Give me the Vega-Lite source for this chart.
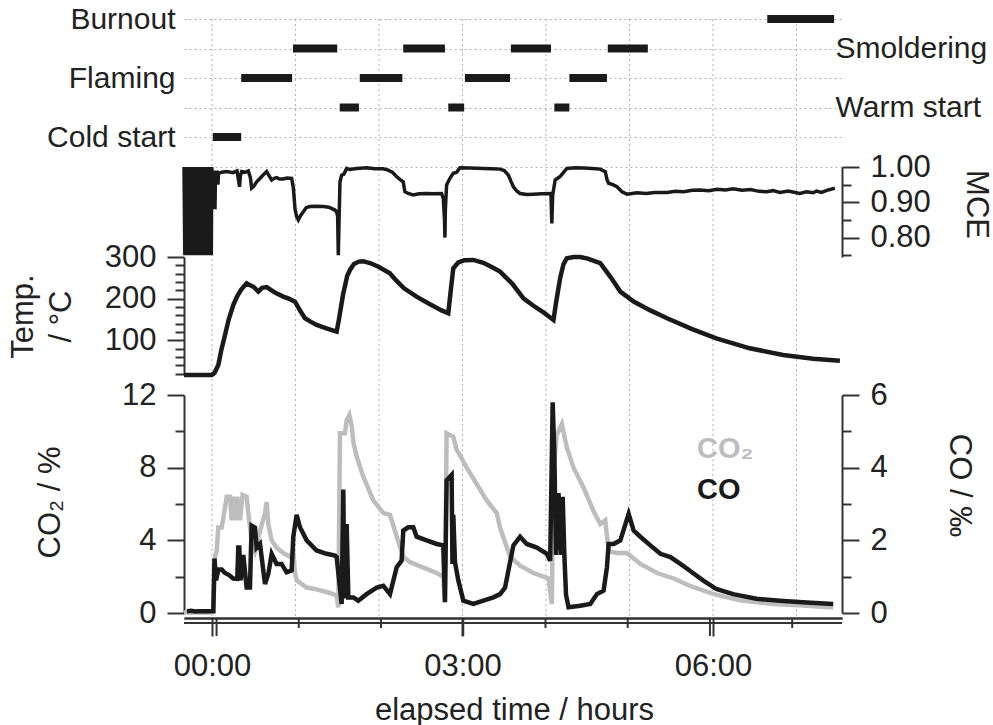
{
  "$schema": "https://vega.github.io/schema/vega-lite/v6.json",
  "width": 658,
  "height": 629,
  "autosize": {"type": "none"},
  "padding": {"left": 184, "top": 19, "right": 151, "bottom": 77},
  "background": "white",
  "config": {
    "font": "Liberation Sans",
    "view": {"stroke": null},
    "axis": {
      "labelFont": "Liberation Sans",
      "titleFont": "Liberation Sans",
      "labelFontSize": 31,
      "titleFontSize": 31,
      "labelColor": "#222",
      "titleColor": "#222",
      "titleFontWeight": "normal",
      "domainColor": "#333",
      "domainWidth": 2,
      "tickColor": "#333",
      "tickWidth": 2,
      "grid": false,
      "labelFlush": false,
      "labelOverlap": false
    }
  },
  "datasets": {
    "hours": [{"h": 0}, {"h": 1}, {"h": 2}, {"h": 3}, {"h": 4}, {"h": 5}, {"h": 6}, {"h": 7}],
    "majorHours": [{"h": 0}, {"h": 3}, {"h": 6}],
    "minorHours": [{"h": 1}, {"h": 2}, {"h": 4}, {"h": 5}, {"h": 7}],
    "phases": [
      {"phase": "Cold start", "start": 0.01, "end": 0.35},
      {"phase": "Flaming", "start": 0.35, "end": 0.96},
      {"phase": "Smoldering", "start": 0.97, "end": 1.5},
      {"phase": "Warm start", "start": 1.53, "end": 1.76},
      {"phase": "Flaming", "start": 1.77, "end": 2.28},
      {"phase": "Smoldering", "start": 2.29, "end": 2.79},
      {"phase": "Warm start", "start": 2.83, "end": 3.02},
      {"phase": "Flaming", "start": 3.03, "end": 3.57},
      {"phase": "Smoldering", "start": 3.58, "end": 4.06},
      {"phase": "Warm start", "start": 4.1, "end": 4.28},
      {"phase": "Flaming", "start": 4.28, "end": 4.73},
      {"phase": "Smoldering", "start": 4.74, "end": 5.22},
      {"phase": "Burnout", "start": 6.65, "end": 7.45}
    ],
    "mce": [
      {"t": -0.335, "v": 1.0}, {"t": -0.325, "v": 0.75}, {"t": -0.315, "v": 1.0}, {"t": -0.305, "v": 0.75},
      {"t": -0.295, "v": 1.0}, {"t": -0.285, "v": 0.75}, {"t": -0.275, "v": 1.0}, {"t": -0.265, "v": 0.75},
      {"t": -0.255, "v": 1.0}, {"t": -0.245, "v": 0.75}, {"t": -0.235, "v": 1.0}, {"t": -0.225, "v": 0.75},
      {"t": -0.215, "v": 1.0}, {"t": -0.205, "v": 0.75}, {"t": -0.195, "v": 1.0}, {"t": -0.185, "v": 0.75},
      {"t": -0.175, "v": 1.0}, {"t": -0.165, "v": 0.75}, {"t": -0.155, "v": 1.0}, {"t": -0.145, "v": 0.75},
      {"t": -0.135, "v": 1.0}, {"t": -0.125, "v": 0.75}, {"t": -0.115, "v": 1.0}, {"t": -0.105, "v": 0.75},
      {"t": -0.095, "v": 1.0}, {"t": -0.085, "v": 0.75}, {"t": -0.075, "v": 1.0}, {"t": -0.065, "v": 0.75},
      {"t": -0.055, "v": 1.0}, {"t": -0.045, "v": 0.75}, {"t": -0.035, "v": 1.0}, {"t": -0.025, "v": 0.75},
      {"t": -0.015, "v": 1.0}, {"t": -0.008, "v": 0.75}, {"t": -0.003, "v": 1.0},
      {"t": 0.0, "v": 0.99}, {"t": 0.004, "v": 0.88}, {"t": 0.008, "v": 0.99}, {"t": 0.012, "v": 0.88},
      {"t": 0.016, "v": 0.99}, {"t": 0.02, "v": 0.88}, {"t": 0.024, "v": 0.99}, {"t": 0.028, "v": 0.88},
      {"t": 0.032, "v": 0.99}, {"t": 0.036, "v": 0.88}, {"t": 0.042, "v": 0.99}, {"t": 0.048, "v": 0.95},
      {"t": 0.054, "v": 0.99}, {"t": 0.06, "v": 0.95}, {"t": 0.066, "v": 0.99}, {"t": 0.072, "v": 0.95},
      {"t": 0.078, "v": 0.982}, {"t": 0.12, "v": 0.985}, {"t": 0.176, "v": 0.987}, {"t": 0.25, "v": 0.984},
      {"t": 0.3, "v": 0.989}, {"t": 0.32, "v": 0.96}, {"t": 0.33, "v": 0.944}, {"t": 0.34, "v": 0.975},
      {"t": 0.356, "v": 0.987}, {"t": 0.4, "v": 0.985}, {"t": 0.435, "v": 0.989}, {"t": 0.46, "v": 0.97},
      {"t": 0.475, "v": 0.94}, {"t": 0.5, "v": 0.945}, {"t": 0.535, "v": 0.958}, {"t": 0.565, "v": 0.965},
      {"t": 0.595, "v": 0.973}, {"t": 0.625, "v": 0.98}, {"t": 0.655, "v": 0.987}, {"t": 0.685, "v": 0.975},
      {"t": 0.715, "v": 0.963}, {"t": 0.745, "v": 0.968}, {"t": 0.775, "v": 0.97}, {"t": 0.81, "v": 0.966},
      {"t": 0.854, "v": 0.966}, {"t": 0.9, "v": 0.969}, {"t": 0.954, "v": 0.968}, {"t": 0.975, "v": 0.94},
      {"t": 0.995, "v": 0.88}, {"t": 1.014, "v": 0.859}, {"t": 1.034, "v": 0.85}, {"t": 1.06, "v": 0.862},
      {"t": 1.094, "v": 0.873}, {"t": 1.13, "v": 0.885}, {"t": 1.174, "v": 0.888}, {"t": 1.25, "v": 0.889},
      {"t": 1.333, "v": 0.888}, {"t": 1.4, "v": 0.886}, {"t": 1.473, "v": 0.878}, {"t": 1.493, "v": 0.873},
      {"t": 1.505, "v": 0.86}, {"t": 1.513, "v": 0.75}, {"t": 1.523, "v": 0.86}, {"t": 1.533, "v": 0.958},
      {"t": 1.553, "v": 0.977}, {"t": 1.58, "v": 0.98}, {"t": 1.613, "v": 0.996}, {"t": 1.65, "v": 0.993},
      {"t": 1.733, "v": 0.996}, {"t": 1.853, "v": 0.998}, {"t": 1.95, "v": 0.995}, {"t": 2.05, "v": 0.995},
      {"t": 2.11, "v": 0.991}, {"t": 2.16, "v": 0.985}, {"t": 2.21, "v": 0.973}, {"t": 2.25, "v": 0.965},
      {"t": 2.29, "v": 0.958}, {"t": 2.31, "v": 0.93}, {"t": 2.35, "v": 0.925}, {"t": 2.41, "v": 0.921},
      {"t": 2.48, "v": 0.924}, {"t": 2.57, "v": 0.925}, {"t": 2.65, "v": 0.924}, {"t": 2.75, "v": 0.925},
      {"t": 2.77, "v": 0.911}, {"t": 2.785, "v": 0.85}, {"t": 2.79, "v": 0.8}, {"t": 2.795, "v": 0.88},
      {"t": 2.81, "v": 0.949}, {"t": 2.85, "v": 0.968}, {"t": 2.89, "v": 0.982}, {"t": 2.93, "v": 0.985},
      {"t": 2.97, "v": 0.998}, {"t": 3.1, "v": 0.997}, {"t": 3.25, "v": 0.996}, {"t": 3.35, "v": 0.995},
      {"t": 3.45, "v": 0.994}, {"t": 3.5, "v": 0.99}, {"t": 3.55, "v": 0.977}, {"t": 3.58, "v": 0.96},
      {"t": 3.61, "v": 0.944}, {"t": 3.65, "v": 0.932}, {"t": 3.69, "v": 0.925}, {"t": 3.77, "v": 0.922},
      {"t": 3.85, "v": 0.923}, {"t": 3.95, "v": 0.924}, {"t": 4.05, "v": 0.925}, {"t": 4.06, "v": 0.92},
      {"t": 4.07, "v": 0.84}, {"t": 4.08, "v": 0.92}, {"t": 4.11, "v": 0.963}, {"t": 4.14, "v": 0.968},
      {"t": 4.17, "v": 0.973}, {"t": 4.21, "v": 0.985}, {"t": 4.25, "v": 0.996}, {"t": 4.35, "v": 0.998},
      {"t": 4.45, "v": 0.997}, {"t": 4.55, "v": 0.996}, {"t": 4.65, "v": 0.994}, {"t": 4.71, "v": 0.987},
      {"t": 4.73, "v": 0.965}, {"t": 4.75, "v": 0.954}, {"t": 4.8, "v": 0.95}, {"t": 4.85, "v": 0.944},
      {"t": 4.91, "v": 0.93}, {"t": 4.97, "v": 0.923}, {"t": 5.03, "v": 0.925}, {"t": 5.09, "v": 0.927},
      {"t": 5.2, "v": 0.925}, {"t": 5.3, "v": 0.928}, {"t": 5.45, "v": 0.928}, {"t": 5.55, "v": 0.931},
      {"t": 5.65, "v": 0.93}, {"t": 5.75, "v": 0.934}, {"t": 5.84, "v": 0.935}, {"t": 5.95, "v": 0.933},
      {"t": 6.05, "v": 0.937}, {"t": 6.15, "v": 0.935}, {"t": 6.24, "v": 0.938}, {"t": 6.35, "v": 0.934},
      {"t": 6.45, "v": 0.936}, {"t": 6.55, "v": 0.931}, {"t": 6.64, "v": 0.93}, {"t": 6.72, "v": 0.933},
      {"t": 6.8, "v": 0.928}, {"t": 6.9, "v": 0.932}, {"t": 7.04, "v": 0.925}, {"t": 7.12, "v": 0.93},
      {"t": 7.2, "v": 0.927}, {"t": 7.24, "v": 0.932}, {"t": 7.3, "v": 0.928}, {"t": 7.38, "v": 0.935},
      {"t": 7.46, "v": 0.94}
    ],
    "temp": [
      {"t": -0.335, "v": 17}, {"t": -0.003, "v": 17}, {"t": 0.03, "v": 22}, {"t": 0.076, "v": 41},
      {"t": 0.11, "v": 75}, {"t": 0.156, "v": 113}, {"t": 0.2, "v": 150}, {"t": 0.255, "v": 185},
      {"t": 0.3, "v": 205}, {"t": 0.35, "v": 222}, {"t": 0.415, "v": 237}, {"t": 0.46, "v": 232},
      {"t": 0.5, "v": 228}, {"t": 0.555, "v": 217}, {"t": 0.6, "v": 226}, {"t": 0.655, "v": 228},
      {"t": 0.7, "v": 222}, {"t": 0.76, "v": 214}, {"t": 0.854, "v": 205}, {"t": 0.92, "v": 200},
      {"t": 0.994, "v": 193}, {"t": 1.05, "v": 173}, {"t": 1.114, "v": 153}, {"t": 1.18, "v": 145},
      {"t": 1.254, "v": 137}, {"t": 1.37, "v": 129}, {"t": 1.493, "v": 121}, {"t": 1.52, "v": 150},
      {"t": 1.57, "v": 210}, {"t": 1.62, "v": 255}, {"t": 1.653, "v": 269}, {"t": 1.7, "v": 283},
      {"t": 1.76, "v": 289}, {"t": 1.812, "v": 290}, {"t": 1.9, "v": 285}, {"t": 2.0, "v": 276},
      {"t": 2.13, "v": 261}, {"t": 2.2, "v": 245}, {"t": 2.3, "v": 225}, {"t": 2.45, "v": 205},
      {"t": 2.6, "v": 188}, {"t": 2.75, "v": 172}, {"t": 2.83, "v": 165}, {"t": 2.86, "v": 220},
      {"t": 2.89, "v": 273}, {"t": 2.95, "v": 287}, {"t": 3.02, "v": 292}, {"t": 3.13, "v": 293},
      {"t": 3.25, "v": 286}, {"t": 3.35, "v": 276}, {"t": 3.45, "v": 265}, {"t": 3.6, "v": 235},
      {"t": 3.73, "v": 201}, {"t": 3.85, "v": 183}, {"t": 3.97, "v": 167}, {"t": 4.09, "v": 149},
      {"t": 4.12, "v": 190}, {"t": 4.17, "v": 250}, {"t": 4.21, "v": 283}, {"t": 4.25, "v": 297},
      {"t": 4.33, "v": 300}, {"t": 4.41, "v": 300}, {"t": 4.5, "v": 296}, {"t": 4.65, "v": 285},
      {"t": 4.78, "v": 250}, {"t": 4.89, "v": 217}, {"t": 5.05, "v": 193}, {"t": 5.25, "v": 172},
      {"t": 5.45, "v": 153}, {"t": 5.75, "v": 127}, {"t": 6.04, "v": 105}, {"t": 6.44, "v": 81},
      {"t": 6.84, "v": 65}, {"t": 7.2, "v": 56}, {"t": 7.52, "v": 51}
    ],
    "co2": [
      {"t": -0.335, "v": 0.03}, {"t": -0.2, "v": 0.03}, {"t": -0.05, "v": 0.02}, {"t": 0.016, "v": 0.1},
      {"t": 0.036, "v": 3.1}, {"t": 0.056, "v": 3.4}, {"t": 0.076, "v": 4.7}, {"t": 0.116, "v": 4.7},
      {"t": 0.156, "v": 5.8}, {"t": 0.176, "v": 6.4}, {"t": 0.216, "v": 6.4}, {"t": 0.236, "v": 5.1},
      {"t": 0.255, "v": 6.4}, {"t": 0.287, "v": 5.1}, {"t": 0.303, "v": 6.4}, {"t": 0.335, "v": 5.1},
      {"t": 0.367, "v": 6.5}, {"t": 0.415, "v": 6.4}, {"t": 0.435, "v": 5.5}, {"t": 0.475, "v": 4.0},
      {"t": 0.515, "v": 3.4}, {"t": 0.575, "v": 4.5}, {"t": 0.635, "v": 5.5}, {"t": 0.655, "v": 6.1},
      {"t": 0.675, "v": 4.9}, {"t": 0.715, "v": 4.0}, {"t": 0.774, "v": 3.6}, {"t": 0.854, "v": 3.3},
      {"t": 0.934, "v": 3.1}, {"t": 0.974, "v": 3.4}, {"t": 0.994, "v": 2.2}, {"t": 1.014, "v": 1.8},
      {"t": 1.134, "v": 1.4}, {"t": 1.253, "v": 1.3}, {"t": 1.413, "v": 1.1}, {"t": 1.493, "v": 0.96},
      {"t": 1.513, "v": 0.3}, {"t": 1.533, "v": 9.9}, {"t": 1.593, "v": 9.9}, {"t": 1.613, "v": 10.6},
      {"t": 1.645, "v": 10.9}, {"t": 1.673, "v": 10.3}, {"t": 1.693, "v": 9.4}, {"t": 1.733, "v": 8.6},
      {"t": 1.812, "v": 7.5}, {"t": 1.932, "v": 6.2}, {"t": 2.052, "v": 5.5}, {"t": 2.132, "v": 5.4},
      {"t": 2.212, "v": 4.2}, {"t": 2.291, "v": 3.1}, {"t": 2.371, "v": 2.8}, {"t": 2.531, "v": 2.5},
      {"t": 2.691, "v": 2.2}, {"t": 2.77, "v": 2.0}, {"t": 2.79, "v": 0.6}, {"t": 2.81, "v": 9.9},
      {"t": 2.89, "v": 9.7}, {"t": 2.93, "v": 9.0}, {"t": 3.05, "v": 8.0}, {"t": 3.17, "v": 7.1},
      {"t": 3.29, "v": 6.2}, {"t": 3.41, "v": 5.5}, {"t": 3.45, "v": 4.7}, {"t": 3.57, "v": 3.1},
      {"t": 3.69, "v": 2.6}, {"t": 3.85, "v": 2.2}, {"t": 4.03, "v": 1.9}, {"t": 4.07, "v": 0.5},
      {"t": 4.09, "v": 8.0}, {"t": 4.13, "v": 9.8}, {"t": 4.19, "v": 10.4}, {"t": 4.25, "v": 9.1},
      {"t": 4.33, "v": 8.0}, {"t": 4.45, "v": 6.9}, {"t": 4.57, "v": 5.6}, {"t": 4.65, "v": 4.9},
      {"t": 4.71, "v": 5.1}, {"t": 4.75, "v": 3.4}, {"t": 4.85, "v": 3.3}, {"t": 4.97, "v": 3.3},
      {"t": 5.13, "v": 2.7}, {"t": 5.33, "v": 2.2}, {"t": 5.53, "v": 1.9}, {"t": 5.72, "v": 1.5},
      {"t": 6.0, "v": 1.05}, {"t": 6.32, "v": 0.7}, {"t": 6.72, "v": 0.5}, {"t": 7.12, "v": 0.4},
      {"t": 7.44, "v": 0.3}
    ],
    "co": [
      {"t": -0.3, "v": 0.05}, {"t": -0.25, "v": 0.06}, {"t": -0.2, "v": 0.04}, {"t": -0.16, "v": 0.05},
      {"t": 0.016, "v": 0.05}, {"t": 0.03, "v": 1.5}, {"t": 0.05, "v": 0.9}, {"t": 0.076, "v": 1.2},
      {"t": 0.116, "v": 1.2}, {"t": 0.156, "v": 1.1}, {"t": 0.2, "v": 1.05}, {"t": 0.255, "v": 0.95},
      {"t": 0.303, "v": 0.94}, {"t": 0.315, "v": 1.8}, {"t": 0.327, "v": 1.8}, {"t": 0.343, "v": 0.9},
      {"t": 0.375, "v": 1.6}, {"t": 0.415, "v": 0.7}, {"t": 0.455, "v": 0.7}, {"t": 0.475, "v": 2.4},
      {"t": 0.515, "v": 2.35}, {"t": 0.535, "v": 1.8}, {"t": 0.575, "v": 1.9}, {"t": 0.635, "v": 0.8},
      {"t": 0.675, "v": 1.08}, {"t": 0.715, "v": 1.63}, {"t": 0.774, "v": 1.35}, {"t": 0.834, "v": 1.35},
      {"t": 0.894, "v": 1.12}, {"t": 0.954, "v": 1.17}, {"t": 0.974, "v": 2.1}, {"t": 1.014, "v": 2.7},
      {"t": 1.054, "v": 2.36}, {"t": 1.134, "v": 2.0}, {"t": 1.253, "v": 1.72}, {"t": 1.373, "v": 1.63},
      {"t": 1.473, "v": 1.58}, {"t": 1.493, "v": 1.54}, {"t": 1.553, "v": 0.25}, {"t": 1.573, "v": 3.4},
      {"t": 1.585, "v": 0.4}, {"t": 1.613, "v": 2.45}, {"t": 1.633, "v": 0.43}, {"t": 1.693, "v": 0.43},
      {"t": 1.752, "v": 0.34}, {"t": 1.852, "v": 0.52}, {"t": 1.972, "v": 0.7}, {"t": 2.052, "v": 0.75},
      {"t": 2.132, "v": 0.52}, {"t": 2.212, "v": 1.26}, {"t": 2.271, "v": 1.44}, {"t": 2.291, "v": 2.27},
      {"t": 2.351, "v": 2.36}, {"t": 2.411, "v": 2.36}, {"t": 2.451, "v": 2.1}, {"t": 2.571, "v": 2.0},
      {"t": 2.691, "v": 1.9}, {"t": 2.77, "v": 1.86}, {"t": 2.79, "v": 0.3}, {"t": 2.81, "v": 3.65},
      {"t": 2.87, "v": 3.8}, {"t": 2.88, "v": 1.35}, {"t": 2.89, "v": 2.7}, {"t": 2.91, "v": 1.4},
      {"t": 2.95, "v": 0.9}, {"t": 3.01, "v": 0.34}, {"t": 3.13, "v": 0.25}, {"t": 3.25, "v": 0.34},
      {"t": 3.37, "v": 0.43}, {"t": 3.45, "v": 0.52}, {"t": 3.51, "v": 0.7}, {"t": 3.55, "v": 1.17},
      {"t": 3.61, "v": 1.86}, {"t": 3.69, "v": 2.1}, {"t": 3.77, "v": 1.9}, {"t": 3.89, "v": 1.8},
      {"t": 4.01, "v": 1.63}, {"t": 4.05, "v": 1.44}, {"t": 4.07, "v": 4.3}, {"t": 4.08, "v": 5.8},
      {"t": 4.1, "v": 4.4}, {"t": 4.12, "v": 1.6}, {"t": 4.15, "v": 3.3}, {"t": 4.18, "v": 1.6},
      {"t": 4.2, "v": 3.2}, {"t": 4.22, "v": 1.6}, {"t": 4.24, "v": 0.5}, {"t": 4.27, "v": 0.16},
      {"t": 4.41, "v": 0.2}, {"t": 4.53, "v": 0.25}, {"t": 4.61, "v": 0.52}, {"t": 4.69, "v": 0.62},
      {"t": 4.73, "v": 1.26}, {"t": 4.75, "v": 1.9}, {"t": 4.81, "v": 1.9}, {"t": 4.89, "v": 2.0},
      {"t": 4.99, "v": 2.73}, {"t": 5.05, "v": 2.27}, {"t": 5.13, "v": 2.1}, {"t": 5.25, "v": 1.86},
      {"t": 5.37, "v": 1.63}, {"t": 5.49, "v": 1.54}, {"t": 5.61, "v": 1.35}, {"t": 5.72, "v": 1.17},
      {"t": 5.88, "v": 0.9}, {"t": 6.04, "v": 0.66}, {"t": 6.24, "v": 0.52}, {"t": 6.52, "v": 0.39},
      {"t": 6.8, "v": 0.34}, {"t": 7.12, "v": 0.29}, {"t": 7.44, "v": 0.25}
    ],
    "legend": [
      {"label": "CO₂", "series": "CO2", "t": 5.81, "v": 9.03},
      {"label": "CO", "series": "CO", "t": 5.81, "v": 6.77}
    ]
  },
  "resolve": {"scale": {"y": "independent", "x": "independent"}, "axis": {"x": "independent", "y": "independent"}},
  "encoding": {
    "x": {
      "field": "t", "type": "quantitative",
      "scale": {"domain": [-0.335, 7.545], "nice": false, "zero": false},
      "axis": null
    }
  },
  "layer": [
    {
      "data": {"name": "hours"},
      "mark": {"type": "rule", "strokeWidth": 1, "strokeDash": [2, 3], "color": "#b0b0b0", "clip": false},
      "encoding": {
        "x": {
          "field": "h", "type": "quantitative",
          "scale": {"domain": [-0.335, 7.545], "nice": false, "zero": false},
          "axis": {
            "orient": "bottom", "title": "elapsed time / hours", "offset": -30,
            "values": [0, 3, 6],
            "labelExpr": "'0' + datum.value + ':00'",
            "tickSize": 18, "labelPadding": 15, "domain": true, "ticks": true, "grid": false,
            "titleX": 330, "titleY": 101, "titleBaseline": "alphabetic"
          }
        },
        "y": {"datum": 0, "type": "quantitative", "scale": {"domain": [0, 1], "range": [0, 599], "nice": false, "zero": false}, "axis": null},
        "y2": {"datum": 1}
      }
    },
    {
      "data": {"name": "majorHours"},
      "mark": {"type": "bar", "size": 2, "color": "#333", "clip": false},
      "encoding": {
        "x": {"field": "h", "type": "quantitative", "scale": {"domain": [-0.335, 7.545], "nice": false, "zero": false}, "axis": null},
        "y": {"datum": 0, "type": "quantitative", "scale": {"domain": [0, 1], "range": [599, 617], "nice": false, "zero": false},
          "axis": {"orient": "left", "values": [0], "labels": false, "ticks": false, "domain": false, "title": null,
                   "grid": true, "gridColor": "#333", "gridWidth": 2, "gridDash": [], "gridOpacity": 1}},
        "y2": {"datum": 1}
      }
    },
    {
      "data": {"name": "minorHours"},
      "mark": {"type": "bar", "size": 2, "color": "#333", "clip": false},
      "encoding": {
        "x": {"field": "h", "type": "quantitative", "scale": {"domain": [-0.335, 7.545], "nice": false, "zero": false}, "axis": null},
        "y": {"datum": 0, "type": "quantitative", "scale": {"domain": [0, 1], "range": [599, 609], "nice": false, "zero": false}, "axis": null},
        "y2": {"datum": 1}
      }
    },
    {
      "data": {"values": [{"from": -0.335, "to": 7.545}]},
      "mark": {"type": "bar", "size": 2, "color": "#333", "clip": false, "orient": "horizontal"},
      "encoding": {
        "x": {"field": "from", "type": "quantitative", "scale": {"domain": [-0.335, 7.545], "nice": false, "zero": false}, "axis": null},
        "x2": {"field": "to"},
        "y": {"datum": 0, "type": "quantitative", "scale": {"domain": [0, 1], "range": [599, 617], "nice": false, "zero": false}, "axis": null}
      }
    },
    {
      "data": {"name": "phases"},
      "mark": {"type": "rule", "strokeWidth": 8, "opacity": 0},
      "encoding": {
        "x": {"field": "start", "type": "quantitative", "scale": {"domain": [-0.335, 7.545], "nice": false, "zero": false}, "axis": null},
        "x2": {"field": "end"},
        "y": {
          "field": "phase", "type": "nominal",
          "scale": {"type": "point", "domain": ["Burnout", "Smoldering", "Flaming", "Warm start", "Cold start"], "range": [0, 118], "padding": 0},
          "axis": {
            "orient": "left", "title": null, "domain": false, "ticks": false, "tickSize": 0,
            "labelPadding": 9, "labelFontSize": 30,
            "labelExpr": "indexof(['Burnout','Flaming','Cold start'], datum.label) >= 0 ? datum.label : ''",
            "grid": true, "gridDash": [2, 3], "gridColor": "#b0b0b0", "gridWidth": 1
          }
        }
      }
    },
    {
      "data": {"name": "phases"},
      "mark": {"type": "rule", "strokeWidth": 8, "color": "#1a1a1a"},
      "encoding": {
        "x": {"field": "start", "type": "quantitative", "scale": {"domain": [-0.335, 7.545], "nice": false, "zero": false}, "axis": null},
        "x2": {"field": "end"},
        "y": {
          "field": "phase", "type": "nominal",
          "scale": {"type": "point", "domain": ["Burnout", "Smoldering", "Flaming", "Warm start", "Cold start"], "range": [0, 118], "padding": 0},
          "axis": {
            "orient": "right", "title": null, "domain": false, "ticks": false, "tickSize": 0,
            "labelPadding": -7, "labelFontSize": 30,
            "labelExpr": "indexof(['Smoldering','Warm start'], datum.label) >= 0 ? datum.label : ''"
          }
        }
      }
    },
    {
      "data": {"name": "mce"},
      "mark": {"type": "line", "strokeWidth": 3.5, "color": "#1a1a1a"},
      "encoding": {
        "y": {
          "field": "v", "type": "quantitative",
          "scale": {"domain": [0.745, 1.0], "range": [238, 148], "nice": false, "zero": false},
          "axis": {
            "orient": "right", "title": "MCE",
            "values": [0.75, 0.8, 0.85, 0.9, 0.95, 1.0], "format": ".2f",
            "labelExpr": "abs(datum.value*10 - round(datum.value*10)) < 0.001 ? datum.label : ''",
            "tickSize": {"condition": {"test": "abs(datum.value*10 - round(datum.value*10)) < 0.001", "value": 17}, "value": 9},
            "labelPadding": 11,
            "grid": true, "gridDash": [2, 3], "gridColor": "#b0b0b0", "gridWidth": 1,
            "gridOpacity": {"condition": {"test": "datum.value > 0.999", "value": 1}, "value": 0},
            "titleX": 133, "titleY": 185, "titleBaseline": "middle"
          }
        }
      }
    },
    {
      "data": {"name": "temp"},
      "mark": {"type": "line", "strokeWidth": 4.5, "color": "#1a1a1a"},
      "encoding": {
        "y": {
          "field": "v", "type": "quantitative",
          "scale": {"domain": [17, 300], "range": [356, 238], "nice": false, "zero": false},
          "axis": {
            "orient": "left", "title": ["Temp.", "/ °C"],
            "values": [20, 40, 60, 80, 100, 120, 140, 160, 180, 200, 220, 240, 260, 280, 300],
            "labelExpr": "datum.value % 100 == 0 ? datum.label : ''",
            "tickSize": {"condition": {"test": "datum.value % 100 == 0", "value": 17}, "value": 9},
            "labelPadding": 11,
            "titleX": -161, "titleY": 297, "titleBaseline": "middle", "titleLineHeight": 38
          }
        }
      }
    },
    {
      "data": {"name": "co2"},
      "mark": {"type": "line", "strokeWidth": 4.5, "color": "#bdbdbd"},
      "encoding": {
        "y": {
          "field": "v", "type": "quantitative",
          "scale": {"domain": [0, 12], "range": [594, 376], "nice": false, "zero": false},
          "axis": {
            "orient": "left", "title": "CO₂ / %",
            "values": [0, 2, 4, 6, 8, 10, 12],
            "labelExpr": "datum.value % 4 == 0 ? datum.label : ''",
            "tickSize": {"condition": {"test": "datum.value % 4 == 0", "value": 17}, "value": 9},
            "labelPadding": 11,
            "titleX": -134, "titleY": 483, "titleBaseline": "middle"
          }
        }
      }
    },
    {
      "data": {"name": "co"},
      "mark": {"type": "line", "strokeWidth": 4.5, "color": "#1a1a1a"},
      "encoding": {
        "y": {
          "field": "v", "type": "quantitative",
          "scale": {"domain": [0, 6], "range": [594, 376], "nice": false, "zero": false},
          "axis": {
            "orient": "right", "title": "CO / ‰",
            "values": [0, 1, 2, 3, 4, 5, 6],
            "labelExpr": "datum.value % 2 == 0 ? datum.label : ''",
            "tickSize": {"condition": {"test": "datum.value % 2 == 0", "value": 17}, "value": 9},
            "labelPadding": 11,
            "titleX": 116, "titleY": 466, "titleBaseline": "middle"
          }
        }
      }
    },
    {
      "data": {"name": "legend"},
      "mark": {"type": "text", "align": "left", "baseline": "middle", "fontSize": 29, "fontWeight": "bold", "font": "Liberation Sans"},
      "encoding": {
        "y": {"field": "v", "type": "quantitative", "scale": {"domain": [0, 12], "range": [594, 376], "nice": false, "zero": false}, "axis": null},
        "text": {"field": "label"},
        "color": {"field": "series", "type": "nominal", "scale": {"domain": ["CO2", "CO"], "range": ["#bdbdbd", "#1a1a1a"]}, "legend": null}
      }
    }
  ]
}
